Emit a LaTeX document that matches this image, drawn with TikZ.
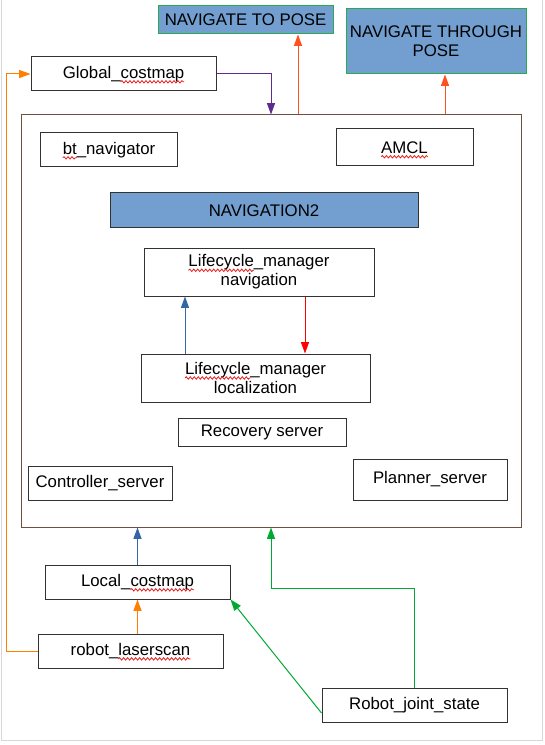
\documentclass[tikz,border=0pt]{standalone}
\usepackage{fontspec}
\setmainfont{Liberation Sans}
\usepackage{tikz}
\usetikzlibrary{arrows.meta, positioning, calc, decorations.pathmorphing}
\usepackage{xcolor}

\definecolor{navblue}{RGB}{114,159,207}
\definecolor{navgreen}{RGB}{40,170,80}
\definecolor{framebrown}{RGB}{110,80,65}
\definecolor{boxgray}{RGB}{50,50,50}
\definecolor{posered}{RGB}{255,80,32}
\definecolor{lmblue}{RGB}{52,101,164}
\definecolor{scanorange}{RGB}{255,128,0}
\definecolor{jointgreen}{RGB}{0,169,51}
\definecolor{mappurple}{RGB}{94,44,145}
\definecolor{pagegray}{RGB}{215,215,215}
\definecolor{spellred}{RGB}{230,30,30}

\newcommand{\spell}[1]{\tikz[baseline=(w.base)]{%
    \node[draw=none, fill=none, inner sep=0pt, outer sep=0pt,
        minimum width=0pt, minimum height=0pt, anchor=base] (w) {#1};
    \draw[overlay, spellred, line width=0.6pt, decorate,
        decoration={snake, amplitude=0.9pt, segment length=3pt}]
        ([yshift=-2.6pt]w.base west) -- ([yshift=-2.6pt]w.base east);}}

\begin{document}
\begin{tikzpicture}[
    x=0.75pt, y=-0.75pt,
    node distance=25.5pt,
    box/.style={
        draw=boxgray, line width=0.75pt, rectangle, align=center, inner sep=0pt,
        font=\fontsize{12.6}{14.25}\selectfont,
        minimum width=138.75pt, minimum height=25.5pt
    },
    bluebox/.style={box, fill=navblue},
    posebox/.style={bluebox, draw=navgreen},
    frame/.style={draw=framebrown, line width=0.75pt, rectangle,
        minimum width=375pt, minimum height=309pt, inner sep=0pt},
    line/.style={draw, line width=0.75pt, -{Triangle[length=8.5pt, width=6pt]}}
]
    \useasboundingbox (0,0) rectangle (545,745);
    \draw[pagegray, line width=0.75pt] (1,0) -- (1,740) -- (542,740) -- (542,0);

    \node[frame] (Nav2) at (271,321) {};
    \node[posebox, minimum width=131.25pt, minimum height=21pt] (ToPose) at (245.5,20) {NAVIGATE TO POSE};
    \node[posebox, minimum width=135pt, minimum height=48.75pt] (ThroughPose) at (436,41.5) {NAVIGATE THROUGH\\POSE};
    \node[box] (Global) at (123.5,74) {Global\_\spell{costmap}};

    \node[box, minimum width=102.75pt] (BT) at (109,150) {\spell{bt}\_navigator};
    \node[box, minimum width=102.75pt, minimum height=27.75pt] (AMCL) at (404.5,147.5) {\spell{AMCL}};
    \node[bluebox, minimum width=231pt, minimum height=26.25pt] (Title) at (264,210.5) {NAVIGATION2};
    \node[box, minimum width=172.5pt, minimum height=36pt] (LMnav) at (259,272) {\spell{Lifecycle}\_manager\\navigation};
    \node[box, minimum width=171.75pt, minimum height=36pt, below=42.75pt of LMnav, xshift=-2.6pt] (LMloc) {\spell{Lifecycle}\_manager\\localization};
    \node[box, minimum width=126pt, minimum height=21pt] (Recovery) at (262,432) {Recovery server};
    \node[box, minimum width=108pt] (Controller) at (100,483) {Controller\_server};
    \node[box, minimum width=115.5pt, minimum height=30.75pt] (Planner) at (430,479.5) {Planner\_server};

    \node[box] (Local) at (137.5,582) {Local\_\spell{costmap}};
    \node[box, below=of Local, xshift=-5.25pt] (Laser) {robot\_\spell{laserscan}};
    \node[box] (Joint) at (414.5,705) {Robot\_joint\_state};

    \draw[line, mappurple] (Global.east) -| (Nav2.north);
    \draw[line, posered] ([xshift=20.25pt]Nav2.north) -- ([xshift=20.25pt]Nav2.north |- ToPose.south);
    \draw[line, posered] ([xshift=130.5pt]Nav2.north) -- ([xshift=130.5pt]Nav2.north |- ThroughPose.south);
    \draw[line, lmblue] ([xshift=-52.9pt]LMloc.north) -- ([xshift=-52.9pt]LMloc.north |- LMnav.south);
    \draw[line, red] ([xshift=34.5pt]LMnav.south) -- ([xshift=34.5pt]LMnav.south |- LMloc.north);
    \draw[line, scanorange] (Laser.west) -- ++(-31,0) |- (Global.west);
    \draw[line, lmblue] (Local.north) -- (Local.north |- Nav2.south);
    \draw[line, scanorange] (Local.south |- Laser.north) -- (Local.south);
    \draw[line, jointgreen] (Joint.north) -- ++(0,-99) -| (Nav2.south);
    \draw[line, jointgreen] ([yshift=-6pt]Joint.west) -- (Local.south east);
\end{tikzpicture}
\end{document}
